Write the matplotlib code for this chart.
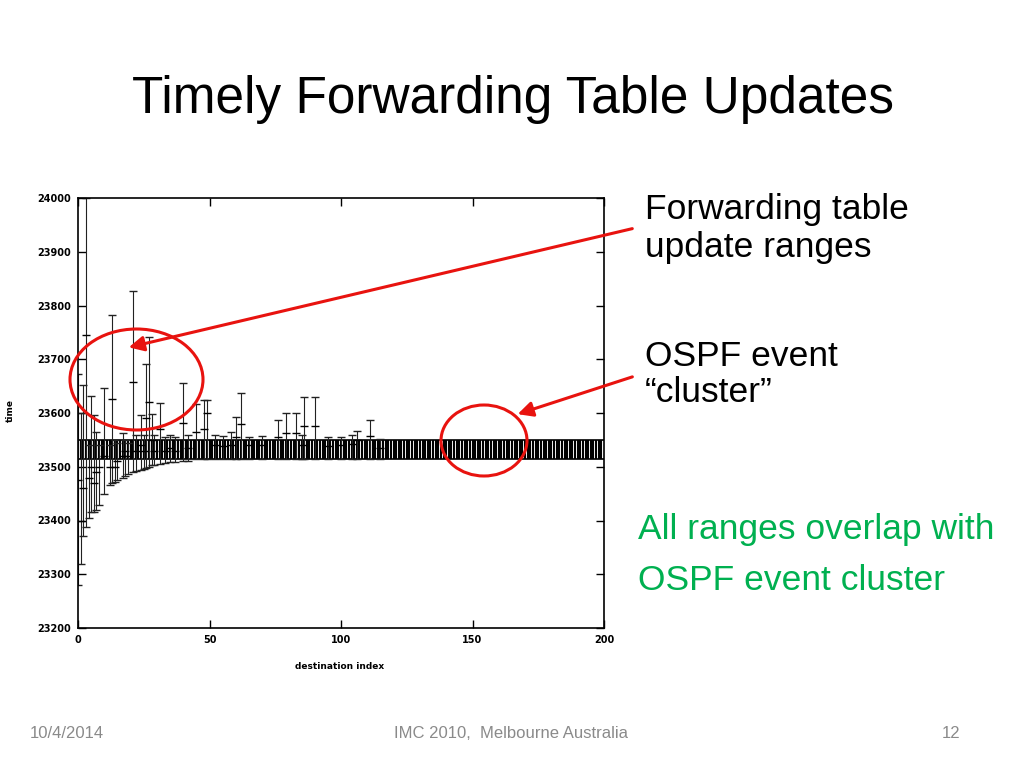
import numpy as np
import matplotlib
matplotlib.use("Agg")
import matplotlib.pyplot as plt
from matplotlib.patches import Ellipse, FancyArrowPatch

# ---------------- data ----------------
title = "Timely Forwarding Table Updates"
xlabel = "destination index"
ylabel = "time"
xticks = [0, 50, 100, 150, 200]
yticks = [23200, 23300, 23400, 23500, 23600, 23700, 23800, 23900, 24000]

# OSPF event cluster (same range for every destination index)
cluster_idx = list(range(0, 200))
cluster_low = 23515
cluster_high = 23550

# Forwarding table update ranges
fw_x    = [0, 1, 2, 3, 4, 5, 6, 7, 8, 10, 12, 13, 14, 15, 17, 18, 19, 21, 22, 24,
           25, 26, 27, 28, 29, 31, 33, 35, 37, 40, 42, 45, 48, 49, 52, 55, 58, 60,
           62, 65, 70, 76, 79, 83, 85, 86, 90, 95, 100, 104, 106, 111, 115]
fw_low  = [23280, 23320, 23371, 23388, 23404, 23415, 23416, 23420, 23429, 23449,
           23466, 23469, 23472, 23475, 23480, 23483, 23486, 23490, 23492, 23494,
           23496, 23498, 23500, 23503, 23504, 23505, 23507, 23508, 23509, 23510,
           23511, 23515, 23515, 23515, 23515, 23515, 23515, 23515, 23515, 23515,
           23515, 23515, 23515, 23515, 23515, 23515, 23515, 23515, 23515, 23515,
           23515, 23515, 23515]
fw_high = [23672, 23600, 23652, 24000, 23540, 23632, 23596, 23565, 23540, 23646,
           23540, 23782, 23550, 23545, 23563, 23550, 23545, 23827, 23560, 23596,
           23560, 23691, 23741, 23598, 23560, 23619, 23555, 23560, 23555, 23656,
           23560, 23617, 23624, 23624, 23560, 23558, 23565, 23592, 23638, 23556,
           23558, 23587, 23600, 23600, 23560, 23629, 23629, 23555, 23556, 23560,
           23567, 23587, 23552]
fw_mid  = [23475, 23400, 23460, 23745, 23480, 23500, 23470, 23490, 23500, 23520,
           23500, 23626, 23500, 23510, 23520, 23530, 23520, 23658, 23530, 23540,
           23530, 23590, 23620, 23550, 23530, 23570, 23530, 23535, 23530, 23582,
           23535, 23565, 23570, 23600, 23540, 23538, 23540, 23556, 23579, 23540,
           23540, 23556, 23563, 23563, 23540, 23576, 23576, 23538, 23540, 23542,
           23550, 23558, 23535]

# ---------------- figure ----------------
W, H = 1023, 767
fig = plt.figure(figsize=(W / 100, H / 100), dpi=100)
fig.patch.set_facecolor("white")

def fx(px):
    return px / W

def fy(py):
    return 1 - py / H

# axes box: left 78, right 604, top 198, bottom 628 (pixels)
ax = fig.add_axes([fx(78), fy(628), (604 - 78) / W, (628 - 198) / H])
ax.set_xlim(0, 200)
ax.set_ylim(23200, 24000)

# cluster band
ax.vlines(cluster_idx, cluster_low, cluster_high, colors="black", linewidth=1.5)
ax.hlines([cluster_low, cluster_high], 0, 200, colors="black", linewidth=1.2)

# forwarding ranges
fw_x_a = np.array(fw_x, dtype=float)
fw_low_a = np.array(fw_low, dtype=float)
fw_high_a = np.array(fw_high, dtype=float)
fw_mid_a = np.array(fw_mid, dtype=float)
ax.errorbar(fw_x_a, fw_mid_a,
            yerr=[fw_mid_a - fw_low_a, fw_high_a - fw_mid_a],
            fmt="_", color="black", ecolor="#222222", elinewidth=0.8,
            capsize=3, capthick=1.0, markersize=6, markeredgewidth=1.0,
            clip_on=True)

ax.set_xticks(xticks)
ax.set_yticks(yticks)
tick_font = dict(family="DejaVu Sans", weight="bold", size=7)
ax.set_xticklabels([str(t) for t in xticks], fontdict=tick_font)
ax.set_yticklabels([str(t) for t in yticks], fontdict=tick_font)
ax.tick_params(direction="in", length=6, width=1.0, top=True, right=True, pad=5)
for s in ax.spines.values():
    s.set_linewidth(1.2)
ax.set_xlabel(xlabel, fontdict=dict(family="DejaVu Sans", weight="bold", size=6.5))
ax.set_ylabel(ylabel, fontdict=dict(family="DejaVu Sans", weight="bold", size=6.5))
ax.xaxis.set_label_coords((340 - 78) / 526, (628 - 662) / 430)
ax.yaxis.set_label_coords((15 - 78) / 526, (628 - 410) / 430)

# ---------------- slide overlay ----------------
ov = fig.add_axes([0, 0, 1, 1], facecolor="none")
ov.set_xlim(0, W)
ov.set_ylim(H, 0)
ov.axis("off")

sans = "Liberation Sans"
ov.text(513, 99, title, ha="center", va="center", fontsize=37, family=sans, color="black")

fs = 25.5
ov.text(645, 209, "Forwarding table", ha="left", va="center", fontsize=fs, family=sans)
ov.text(645, 247, "update ranges", ha="left", va="center", fontsize=fs, family=sans)
ov.text(645, 356, "OSPF event", ha="left", va="center", fontsize=fs, family=sans)
ov.text(645, 393, "\u201ccluster\u201d", ha="left", va="center", fontsize=fs, family=sans)

green = "#00B050"
ov.text(638, 529, "All ranges overlap with", ha="left", va="center", fontsize=fs,
        family=sans, color=green)
ov.text(638, 581, "OSPF event cluster", ha="left", va="center", fontsize=fs,
        family=sans, color=green)

gray = "#8a8a8a"
ov.text(30, 733, "10/4/2014", ha="left", va="center", fontsize=12, family=sans, color=gray)
ov.text(511, 733, "IMC 2010,  Melbourne Australia", ha="center", va="center",
        fontsize=12, family=sans, color=gray)
ov.text(960, 733, "12", ha="right", va="center", fontsize=12, family=sans, color=gray)

red = "#E8130F"
ov.add_patch(Ellipse((136.5, 379.5), 133, 101, fill=False, edgecolor=red, linewidth=2.2))
ov.add_patch(Ellipse((484, 440.5), 86, 71, fill=False, edgecolor=red, linewidth=2.2))
ov.add_patch(FancyArrowPatch((635, 228), (126, 348), arrowstyle="-|>,head_length=6,head_width=3",
                             color=red, linewidth=2.2, mutation_scale=1.5))
ov.add_patch(FancyArrowPatch((635, 376), (515, 415), arrowstyle="-|>,head_length=6,head_width=3",
                             color=red, linewidth=2.2, mutation_scale=1.5))

fig.savefig("out.png", dpi=100, facecolor="white")
